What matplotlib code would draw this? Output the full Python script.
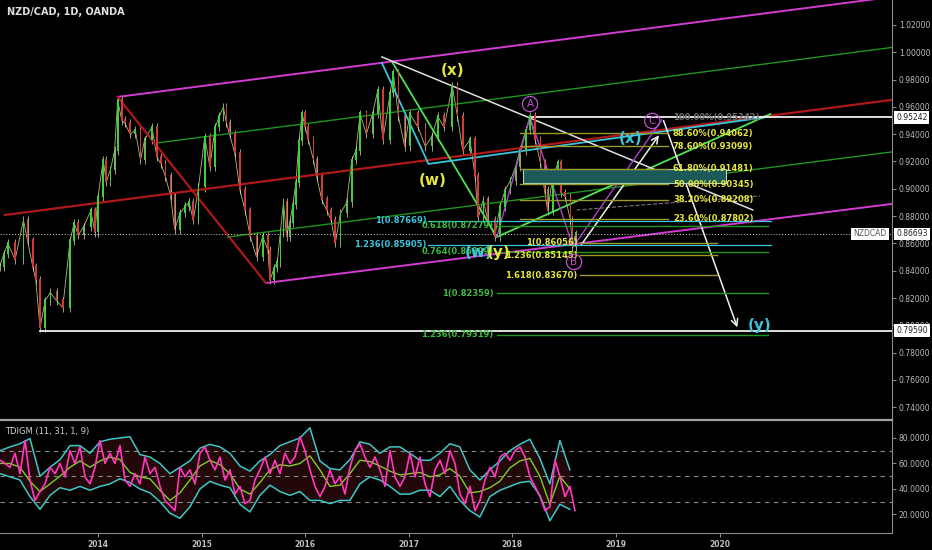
import numpy as np
import matplotlib
matplotlib.use('Agg')
import matplotlib.pyplot as plt

# ---- price path (decimal year, close) ----
price_t = [2013.05, 2013.09, 2013.13, 2013.20, 2013.28, 2013.32, 2013.37, 2013.40, 2013.44, 2013.49,
           2013.54, 2013.60, 2013.66, 2013.73, 2013.77, 2013.81, 2013.86, 2013.93, 2013.97, 2014.00,
           2014.05, 2014.08, 2014.12, 2014.16, 2014.19, 2014.23, 2014.26, 2014.31, 2014.36, 2014.41,
           2014.45, 2014.52, 2014.57, 2014.61, 2014.65, 2014.70, 2014.74, 2014.79, 2014.84, 2014.88,
           2014.92, 2014.97, 2015.03, 2015.08, 2015.13, 2015.17, 2015.21, 2015.24, 2015.27, 2015.32,
           2015.37, 2015.42, 2015.47, 2015.53, 2015.59, 2015.64, 2015.66, 2015.70, 2015.73, 2015.76,
           2015.79, 2015.82, 2015.85, 2015.88, 2015.91, 2015.94, 2015.97, 2016.00, 2016.03, 2016.08,
           2016.11, 2016.16, 2016.21, 2016.25, 2016.29, 2016.34, 2016.40, 2016.45, 2016.49, 2016.53,
           2016.59, 2016.65, 2016.70, 2016.75, 2016.82, 2016.85, 2016.90, 2016.96, 2017.01, 2017.09,
           2017.16, 2017.22, 2017.28, 2017.34, 2017.42, 2017.47, 2017.52, 2017.59, 2017.64, 2017.67,
           2017.72, 2017.76, 2017.83, 2017.88, 2017.93, 2017.98, 2018.03, 2018.07, 2018.13, 2018.17,
           2018.22, 2018.27, 2018.31, 2018.34, 2018.39, 2018.44, 2018.47, 2018.51, 2018.56, 2018.58,
           2018.61]
price_c = [0.843, 0.852, 0.860, 0.848, 0.877, 0.862, 0.843, 0.833, 0.798, 0.818,
           0.824, 0.818, 0.813, 0.862, 0.875, 0.866, 0.872, 0.884, 0.868, 0.894,
           0.921, 0.905, 0.914, 0.928, 0.965, 0.950, 0.948, 0.940, 0.943, 0.921,
           0.936, 0.945, 0.923, 0.918, 0.909, 0.895, 0.870, 0.882, 0.887, 0.890,
           0.877, 0.901, 0.938, 0.916, 0.945, 0.953, 0.960, 0.948, 0.940, 0.926,
           0.899, 0.884, 0.865, 0.850, 0.865, 0.855, 0.833, 0.842, 0.846, 0.868,
           0.890, 0.865, 0.875, 0.888, 0.904, 0.935, 0.955, 0.945, 0.936, 0.921,
           0.909, 0.892, 0.884, 0.877, 0.860, 0.882, 0.890, 0.921, 0.928, 0.955,
           0.940, 0.955, 0.972, 0.936, 0.970, 0.985, 0.953, 0.931, 0.955, 0.945,
           0.931, 0.938, 0.953, 0.945, 0.975, 0.953, 0.928, 0.936, 0.909, 0.879,
           0.892, 0.877, 0.865, 0.887, 0.899, 0.906, 0.916, 0.928, 0.943, 0.953,
           0.936, 0.919, 0.899, 0.884, 0.909, 0.919, 0.897, 0.894, 0.877, 0.857,
           0.867]
last_price = 0.86693

# ---- TDI indicator series ----
ind_start = 2013.054
band_step = 0.0965          # sample spacing of the band / signal readings
rsi_step = 0.04826          # sample spacing of the rsi readings
band_up = [70, 73, 75.5, 79.5, 50, 57, 63, 74, 74, 68, 77, 79, 80, 81, 67, 65, 60, 52, 57, 62,
           72, 75, 73, 68, 58, 54, 62, 67, 74, 77, 80,
           88, 62, 56, 55, 63, 77, 75, 68, 73, 73, 68, 62.5, 62.5, 68, 75.5, 73, 55, 47, 55,
           62, 70, 75, 79, 64, 44, 78, 55]
band_lo = [52, 49.5, 47, 34, 24, 35, 41, 39, 42, 39, 42, 44, 48, 45, 40, 37, 30, 21, 17, 26,
           40, 46, 43, 41, 28, 22, 35, 43, 38, 35, 38,
           31, 31, 28.5, 31, 31, 44, 49.5, 47, 42, 36, 36, 39, 39, 34, 42, 31, 23, 18, 34,
           39, 42, 45, 46, 35, 15, 28, 24]
signal = [60, 60, 57, 46, 38, 44, 50, 57, 62, 57, 62, 65, 63, 53, 49.5, 48, 39, 31, 37, 47,
          58, 62.5, 59, 52, 40, 36, 45, 55, 59, 58, 60,
          66, 55, 42, 43, 52, 62.5, 61.5, 58, 54, 51, 52, 53, 49.5, 51, 56, 50, 37, 38, 41,
          46, 56.5, 62, 64, 50, 28, 50, 40]
rsi = [62.5, 60, 57, 68, 52, 78, 47, 31, 38, 44, 57, 52, 60, 49.5, 70, 60, 73, 49.5, 44, 57,
       78, 60, 68, 60, 74, 47, 42, 52, 44, 65, 52, 57, 42, 31, 27, 23, 57, 49.5, 55, 44,
       68, 73, 62.5, 55, 65, 47, 55, 36, 42, 28.5, 31, 47, 55, 65, 52, 62.5, 52, 68,
       60, 65, 81, 70, 55, 42, 34, 42, 55, 44, 49.5, 36, 57, 70, 75.5, 65, 57, 65, 55, 42,
       70, 49.5, 42, 49.5, 68, 49.5, 65, 44, 34, 55, 62.5, 52, 70, 60, 36, 28.5, 42, 23, 31, 47,
       57, 49.5, 65, 68, 62.5, 70, 73, 65, 49.5, 42, 34, 23, 26, 62.5, 49.5, 34, 42, 23]

# ---- drawings (year, price) ----
magenta_up = [(2014.19, 0.9673), (2021.66, 1.0405)]
magenta_lo = [(2015.62, 0.8310), (2021.66, 0.8889)]
red_mid = [(2013.10, 0.8808), (2021.66, 0.9651)]
red_diag = [(2014.19, 0.9673), (2015.62, 0.8310)]
green_up = [(2014.57, 0.9336), (2021.66, 1.0035)]
green_lo = [(2015.25, 0.8647), (2021.66, 0.9270)]
lime = [(2016.84, 0.9929), (2017.85, 0.8647), (2020.49, 0.9548)]
cyan = [(2016.74, 0.9922), (2017.19, 0.9182), (2020.46, 0.9526)]
white_down = [(2016.74, 0.9966), (2020.32, 0.8845)]
abc = [(2017.85, 0.8647), (2018.17, 0.9526), (2018.585, 0.8574), (2019.44, 0.9504)]
arrow_bc = [(2018.65, 0.8574), (2019.43, 0.9409)]
arrow_cy = [(2019.45, 0.9519), (2020.18, 0.7966)]
dash_gray = [(2018.62, 0.8845), (2020.39, 0.8947)]
hline_top = 0.95242
hline_low = 0.79590

fib_yel_lvl = [0.94062, 0.93099, 0.91481, 0.90345, 0.89208, 0.87802]
fib_yel_txt = ['88.60%', '78.60%', '61.80%', '50.00%', '38.20%', '23.60%']
fib_ext_lvl = [0.86056, 0.85145, 0.83670]
fib_ext_txt = ['1', '1.236', '1.618']
fib_grn_lvl = [0.87279, 0.85399, 0.82359, 0.79319]
fib_grn_txt = ['0.618', '0.764', '1', '1.236']
fib_cyn_lvl = [0.87669, 0.85905]
fib_cyn_txt = ['1', '1.236']

x0, x1 = 2013.054, 2021.664
bg = '#000000'
axc = '#bdbdbd'
mag = '#d23cd2'
yel_t = '#e6e63c'
yel_l = '#9a9a28'
grn_t = '#3cbc3c'
grn_l = '#1e961e'
cyn = '#3cc4dc'

fig = plt.figure(figsize=(9.32, 5.5), dpi=100, facecolor=bg)
ax = fig.add_axes([0, 1 - 418 / 550, 892 / 932, 418 / 550])
ax2 = fig.add_axes([0, 17 / 550, 892 / 932, 113 / 550], sharex=ax)

for a in (ax, ax2):
    a.set_facecolor(bg)
    for s in a.spines.values():
        s.set_visible(False)
    a.spines['right'].set_visible(True)
    a.spines['right'].set_color('#8a8a8a')
    a.yaxis.tick_right()
    a.tick_params(axis='y', colors='#8a8a8a', labelcolor=axc, labelsize=5.5, length=3, pad=2)

ax.set_xlim(x0, x1)
ax.set_ylim(0.7321, 1.0383)

# ---- candles (open = previous close) ----
c = np.array(price_c)
o = np.r_[c[0], c[:-1]]
up = c >= o
cols = np.where(up, '#3ecf3e', '#d23a3a')
ax.plot(price_t, price_c, color='#b8b87a', lw=0.6, zorder=2)
ax.vlines(price_t, np.minimum(o, c) - 0.003, np.maximum(o, c) + 0.003, color='#e0e0b0', lw=0.5, zorder=2)
ax.bar(price_t, np.abs(c - o) + 0.001, bottom=np.minimum(o, c), width=0.016, color=cols, zorder=3)

# ---- trend lines ----
def seg(pts, **kw):
    xs, ys = zip(*pts)
    ax.plot(xs, ys, **kw)

seg(magenta_up, color=mag, lw=1.4)
seg(magenta_lo, color=mag, lw=1.4)
seg(red_mid, color='#b01818', lw=1.6)
seg(red_diag, color='#b01818', lw=1.6)
seg(green_up, color=grn_l, lw=1.0)
seg(green_lo, color=grn_l, lw=1.0)
seg(lime, color='#4fe34f', lw=1.3)
seg(cyan, color=cyn, lw=1.3)
seg(white_down, color='#e0e0e0', lw=1.1)
seg(abc, color='#b040d0', lw=1.0)
seg(dash_gray, color='#777777', lw=0.8, ls='--')

ax.plot([abc[1][0], x1], [hline_top, hline_top], color='#f0f0f0', lw=1.3)
ax.plot([2013.44, x1], [hline_low, hline_low], color='#f0f0f0', lw=1.3)
ax.axhline(last_price, color='#cfcfcf', lw=0.7, ls=(0, (1, 2)))

for pts in (arrow_bc, arrow_cy):
    ax.annotate('', xy=pts[1], xytext=pts[0],
                arrowprops=dict(arrowstyle='->', color='#f0f0f0', lw=1.1, mutation_scale=12))

# ---- fib boxes and levels ----
ax.add_patch(plt.Rectangle((2018.10, 0.9045), 1.96, 0.0103, facecolor='#1c5a5a', edgecolor='#b0d8c0', lw=0.8, zorder=4))

for lv, tx in zip(fib_yel_lvl, fib_yel_txt):
    ax.plot([2018.07, 2019.50], [lv, lv], color=yel_l, lw=1.0, zorder=5)
    ax.text(2019.55, lv, '%s(%.5f)' % (tx, lv), color=yel_t, fontsize=6, fontweight='bold', va='center', ha='left', zorder=6)
ax.text(2019.55, hline_top, '100.00%%(%.5f)' % hline_top, color='#6e6e6e', fontsize=6, fontweight='bold', va='center', ha='left', zorder=6)

for lv, tx in zip(fib_ext_lvl, fib_ext_txt):
    ax.plot([2018.65, 2019.975], [lv, lv], color=yel_l, lw=1.0, zorder=5)
    ax.text(2018.63, lv, '%s(%.5f)' % (tx, lv), color=yel_t, fontsize=6, fontweight='bold', va='center', ha='right', zorder=6)

for lv, tx in zip(fib_grn_lvl, fib_grn_txt):
    ax.plot([2017.85, 2020.47], [lv, lv], color=grn_l, lw=1.0, zorder=5)
    ax.text(2017.82, lv, '%s(%.5f)' % (tx, lv), color=grn_t, fontsize=6, fontweight='bold', va='center', ha='right', zorder=6)

for lv, tx in zip(fib_cyn_lvl, fib_cyn_txt):
    ax.plot([2017.19, 2020.50], [lv, lv], color=cyn, lw=0.9, zorder=5)
    ax.text(2017.17, lv, '%s(%.5f)' % (tx, lv), color=cyn, fontsize=6, fontweight='bold', va='center', ha='right', zorder=6)

# ---- wave labels ----
waves = [('(x)', 2017.42, 0.987, yel_t), ('(w)', 2017.23, 0.9064, yel_t),
         ('(w)', 2017.67, 0.8537, cyn), ('(y)', 2017.87, 0.8537, yel_t),
         ('(x)', 2019.14, 0.9372, cyn), ('(y)', 2020.39, 0.8002, cyn)]
for tx, wx, wy, cl in waves:
    ax.text(wx, wy, tx, color=cl, fontsize=11, fontweight='bold', ha='center', va='center', zorder=7)

for tx, wx, wy in [('A', 2018.17, 0.9621), ('B', 2018.595, 0.8464), ('C', 2019.35, 0.9497)]:
    ax.text(wx, wy, tx, color='#c050d0', fontsize=7.5, ha='center', va='center', zorder=7,
            bbox=dict(boxstyle='circle,pad=0.25', fc='none', ec='#c050d0', lw=0.9))

# ---- price axis ----
ax.set_yticks(np.arange(0.74, 1.021, 0.02))
ax.yaxis.set_major_formatter(matplotlib.ticker.FormatStrFormatter('%.5f'))
ax.tick_params(axis='x', bottom=False, labelbottom=False)
for lv in (hline_top, last_price, hline_low):
    ax.annotate('%.5f' % lv, xy=(1.0, lv), xycoords=('axes fraction', 'data'), xytext=(3, 0),
                textcoords='offset points', fontsize=5.5, color='#222222', va='center', ha='left',
                bbox=dict(boxstyle='square,pad=0.25', fc='white', ec='none'), zorder=10, annotation_clip=False)
ax.text(0.994, last_price, 'NZDCAD', transform=ax.get_yaxis_transform(), fontsize=5.5, color='#555555',
        ha='right', va='center', bbox=dict(boxstyle='square,pad=0.25', fc='white', ec='none'), zorder=10)
ax.text(0.008, 0.972, 'NZD/CAD, 1D, OANDA', transform=ax.transAxes, color='#e0e0e0', fontsize=7,
        fontweight='bold', va='center', ha='left')

# ---- indicator panel ----
band_t = ind_start + band_step * np.arange(len(band_up))
rsi_t = ind_start + rsi_step * np.arange(len(rsi))
ax2.set_ylim(5.45, 94.1)
ax2.fill_between(band_t, band_lo, band_up, color='#220808', lw=0)
for lv in (70, 50, 30):
    ax2.axhline(lv, color='#8a8a8a', lw=0.8, ls=(0, (4, 4)))
ax2.plot(band_t, band_up, color='#3cc8c8', lw=1.1)
ax2.plot(band_t, band_lo, color='#3cc8c8', lw=1.1)
ax2.plot(band_t, signal, color='#7cd01c', lw=1.0)
ax2.plot(rsi_t, rsi, color='#ff38c0', lw=1.2)
ax2.set_yticks([20, 40, 60, 80])
ax2.yaxis.set_major_formatter(matplotlib.ticker.FormatStrFormatter('%.4f'))
ax2.spines['top'].set_visible(True)
ax2.spines['top'].set_color('#a0a0a0')
ax2.spines['top'].set_linewidth(1.6)
ax2.spines['bottom'].set_visible(True)
ax2.spines['bottom'].set_color('#8a8a8a')
ax2.set_xticks(range(2014, 2021))
ax2.set_xticklabels([str(y) for y in range(2014, 2021)])
ax2.tick_params(axis='x', colors='#8a8a8a', labelcolor=axc, labelsize=5.5, length=3, pad=2)
for t in ax2.get_xticklabels():
    t.set_fontweight('bold')
ax2.text(0.006, 0.9, 'TDIGM (11, 31, 1, 9)', transform=ax2.transAxes, color='#d0d0d0', fontsize=6, va='center')

fig.savefig('out.png', dpi=100, facecolor=bg)
